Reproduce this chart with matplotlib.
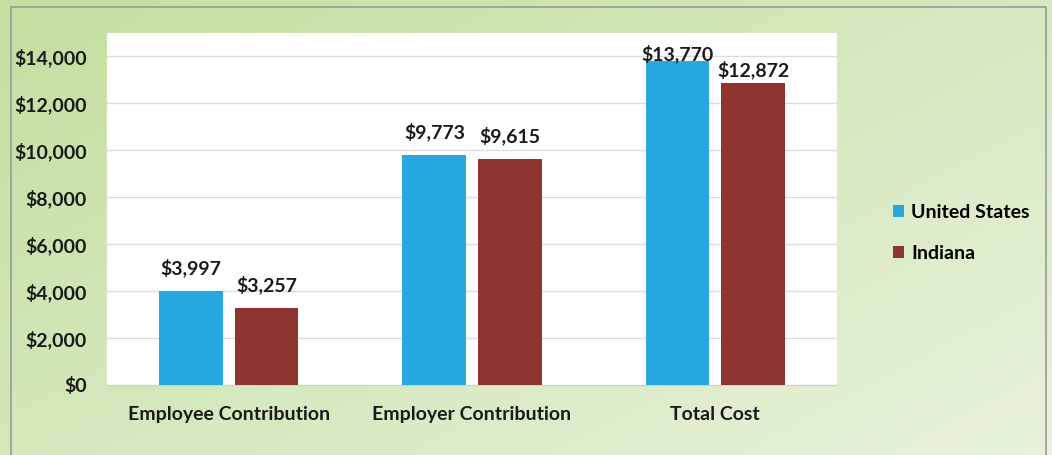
import numpy as np
import matplotlib.pyplot as plt
import matplotlib.patches as patches
from matplotlib.ticker import FuncFormatter

categories = ['Employee Contribution', 'Employer Contribution', 'Total Cost']
us_values = [3997, 9773, 13770]
indiana_values = [3257, 9615, 12872]
series_names = ['United States', 'Indiana']
yticks = [0, 2000, 4000, 6000, 8000, 10000, 12000, 14000]

BLUE = '#27A8E0'
RED = '#8E3530'
TEXT = '#1a1a1a'
FS = 14

plt.rcParams['font.family'] = ['Lato', 'DejaVu Sans']
plt.rcParams['font.weight'] = 'bold'

fig = plt.figure(figsize=(10.52, 4.55), dpi=100)

# green gradient backdrop with a thin grey frame
bg = fig.add_axes([0, 0, 1, 1], zorder=-2)
bg.set_axis_off()
h, w = 100, 230
yy, xx = np.mgrid[0:1:h * 1j, 0:1:w * 1j]
t = np.clip(0.55 * xx + 0.45 * yy, 0, 1)[..., None]
c0 = np.array([196, 223, 160]) / 255
c1 = np.array([232, 242, 220]) / 255
grad = c0 * (1 - t) + c1 * t
bg.imshow(grad, extent=[0, 1, 0, 1], origin='upper', aspect='auto')
bg.add_patch(patches.Rectangle((11 / 1052, -0.01), (1046 - 11) / 1052, 1.01 - 7 / 455,
                               fill=False, edgecolor='#9a9a9a', linewidth=1.2))
bg.set_xlim(0, 1)
bg.set_ylim(0, 1)

ax = fig.add_axes([107 / 1052, 1 - 385 / 455, (837 - 107) / 1052, (385 - 33) / 455])
ax.set_facecolor('white')

ytop = 14980
x = np.arange(len(categories))
width = 0.262
off = 0.155
b1 = ax.bar(x - off, us_values, width, color=BLUE, zorder=3, label=series_names[0])
b2 = ax.bar(x + off, indiana_values, width, color=RED, zorder=3, label=series_names[1])

# value labels sit above the bars, squeezed down near the top of the plot area
for bars, vals in ((b1, us_values), (b2, indiana_values)):
    for bar, v in zip(bars, vals):
        ly = v + min(1000, 0.25 * (ytop - v))
        ax.text(bar.get_x() + bar.get_width() / 2, ly, '${:,}'.format(v),
                ha='center', va='center', fontsize=FS, fontweight='bold', color=TEXT,
                zorder=4)

ax.set_xlim(-0.5, 2.5)
ax.set_ylim(0, ytop)
ax.set_yticks(yticks)
ax.yaxis.set_major_formatter(FuncFormatter(lambda v, p: '${:,.0f}'.format(v)))
ax.grid(axis='y', color='#dcdcdc', linewidth=1, zorder=0)
ax.set_xticks(x)
ax.set_xticklabels(categories)
for s in ax.spines.values():
    s.set_visible(False)
ax.spines['bottom'].set_visible(True)
ax.spines['bottom'].set_color('#d0d0d0')
ax.tick_params(length=0, labelsize=FS, colors=TEXT)
ax.tick_params(axis='y', pad=14.4)
ax.tick_params(axis='x', pad=15)
for lbl in ax.get_xticklabels() + ax.get_yticklabels():
    lbl.set_fontweight('bold')

fig.legend(handles=[b1, b2], labels=series_names, loc='center left',
           bbox_to_anchor=(875 / 1052, 1 - 233 / 455), frameon=False,
           prop={'weight': 'bold', 'size': FS}, handlelength=0.6, handleheight=0.6,
           handletextpad=0.35, labelspacing=1.25)

fig.savefig('out.png', dpi=100)
